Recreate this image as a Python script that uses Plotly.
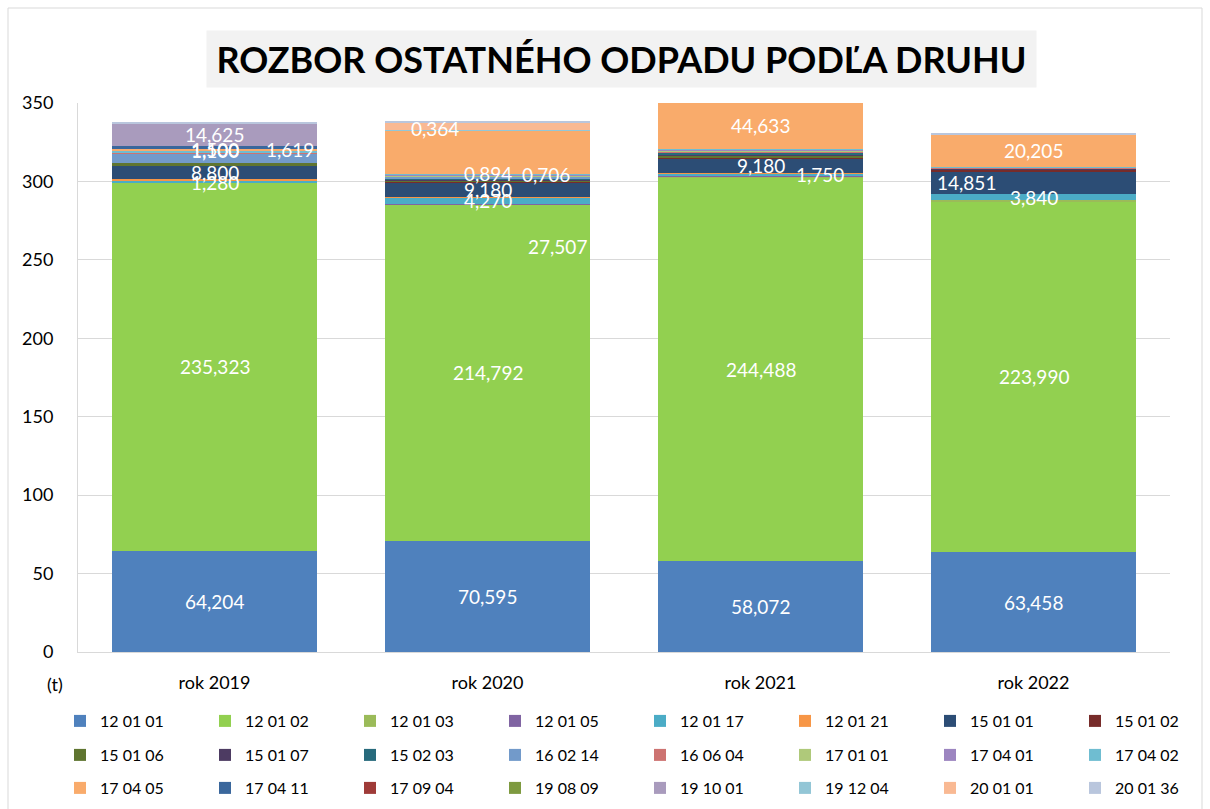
import plotly.graph_objects as go

years = ["rok 2019", "rok 2020", "rok 2021", "rok 2022"]

codes = ["12 01 01", "12 01 02", "12 01 03", "12 01 05", "12 01 17", "12 01 21",
         "15 01 01", "15 01 02", "15 01 06", "15 01 07", "15 02 03", "16 02 14",
         "16 06 04", "17 01 01", "17 04 01", "17 04 02", "17 04 05", "17 04 11",
         "17 09 04", "19 08 09", "19 10 01", "19 12 04", "20 01 01", "20 01 36"]

colors = ["#4F81BD", "#92D050", "#9BBB59", "#8064A2", "#4BACC6", "#F79646",
          "#2C4D75", "#772C2A", "#5F7530", "#4D3B62", "#276A7C", "#729ACA",
          "#CD7371", "#AFC97A", "#9C85C0", "#6FBDD1", "#F9AB6B", "#3A679C",
          "#9F3B38", "#7E9A40", "#A99BBD", "#93C6D6", "#F9B993", "#B9C6DD"]

# values in tonnes, one list per year, aligned with `codes`
v2019 = [64.204, 235.323, 0, 0, 0.5, 1.280, 8.800, 0, 1.9, 0, 0, 6.0,
         0.3, 0, 0, 1.100, 1.500, 1.619, 0, 0, 14.625, 0, 0, 0.8]
v2020 = [70.595, 214.792, 0, 0.3, 4.270, 0.3, 9.180, 0.5, 0.894, 0.3, 0.706, 1.0,
         0.3, 0.5, 0.5, 0.6, 27.507, 0, 0, 0, 0.4, 0.4, 4.5, 0.364]
v2021 = [58.072, 244.488, 0.4, 0.3, 1.750, 0.5, 9.180, 0.4, 1.2, 0.3, 1.8, 0.3,
         0.3, 0.6, 0.6, 0.5, 44.633, 0, 0, 0, 0, 0, 0, 0]
v2022 = [63.458, 223.990, 0.4, 0, 3.840, 0, 14.851, 0.8, 0.5, 0.3, 0.4, 0,
         0.5, 0, 0, 0.4, 20.205, 0, 0, 0, 0, 0, 0, 0.8]

values_by_year = [v2019, v2020, v2021, v2022]

# which segments carry a data label: (code, year index, x shift px, y shift px)
labels = [
    ("12 01 01", 0, 0, 0), ("12 01 02", 0, 0, 0), ("12 01 21", 0, 0, -2),
    ("15 01 01", 0, 0, 0), ("17 04 02", 0, 0, 1), ("17 04 05", 0, 0, 0),
    ("17 04 11", 0, 75, -2), ("19 10 01", 0, 0, 0),
    ("12 01 01", 1, 0, 0), ("12 01 02", 1, 0, 0), ("12 01 17", 1, 0, 0),
    ("15 01 01", 1, 0, 0), ("15 01 06", 1, 0, 7), ("15 02 03", 1, 58, 5),
    ("17 04 05", 1, 70, -94), ("20 01 36", 1, -53, -6),
    ("12 01 01", 2, 0, 0), ("12 01 02", 2, 0, 0), ("12 01 17", 2, 59, 0),
    ("15 01 01", 2, 0, 0), ("17 04 05", 2, 0, 0),
    ("12 01 01", 3, 0, 0), ("12 01 02", 3, 0, 0), ("12 01 17", 3, 0, 0),
    ("15 01 01", 3, -67, 0), ("17 04 05", 3, 0, 0),
]

Y_MAX = 350
FONT = "Lato"
PER_ROW = 8
legend_names = ["legend", "legend2", "legend3"]

fig = go.Figure()
for i, code in enumerate(codes):
    fig.add_trace(go.Bar(
        name=code, x=years, y=[values_by_year[j][i] for j in range(4)],
        marker=dict(color=colors[i], line=dict(width=0)),
        hoverinfo="x+y+name", legend=legend_names[i // PER_ROW],
    ))

# data label annotations, positioned at segment centres computed from the data
annotations = []
for code, j, dx, dy in labels:
    i = codes.index(code)
    base = sum(values_by_year[j][:i])
    top = base + values_by_year[j][i]
    centre = (base + min(top, Y_MAX)) / 2
    txt = f"{values_by_year[j][i]:.3f}".replace(".", ",")
    annotations.append(dict(
        x=years[j], y=centre, xref="x", yref="y", text=txt, showarrow=False,
        xshift=dx, yshift=dy, font=dict(family=FONT, size=19, color="white"),
    ))

# plot area in px: left 78, right 1170, top 103, bottom 652
PL, PR, PT, PB = 78, 1170, 103, 652
def px2paper(px, py):
    return (px - PL) / (PR - PL), (PB - py) / (PB - PT)

tx, ty = px2paper(621, 59)
annotations.append(dict(
    x=tx, y=ty, xref="paper", yref="paper", showarrow=False,
    text="<b>ROZBOR OSTATNÉHO ODPADU PODĽA DRUHU</b>",
    font=dict(family=FONT, size=36, color="black"),
    bgcolor="#F2F2F2", width=827, height=54, xanchor="center", yanchor="middle",
))
ux, uy = px2paper(55, 684)
annotations.append(dict(
    x=ux, y=uy, xref="paper", yref="paper", showarrow=False, text="(t)",
    font=dict(family=FONT, size=18, color="black"), xanchor="center", yanchor="middle",
))

fx0, fy0 = px2paper(8, 820)
fx1, fy1 = px2paper(1202, 8)

row_centres = [721, 755, 788]
legend_layouts = {}
for name, yc in zip(legend_names, row_centres):
    lx, ly = px2paper(60, yc)
    legend_layouts[name] = dict(
        orientation="h", x=lx, y=ly, xanchor="left", yanchor="middle",
        traceorder="normal", entrywidth=100, entrywidthmode="pixels",
        font=dict(family=FONT, size=16, color="black"),
        itemwidth=30, bgcolor="rgba(0,0,0,0)",
    )

fig.update_layout(
    width=1210, height=809,
    margin=dict(l=PL, r=1210 - PR, t=PT, b=809 - PB, autoexpand=False),
    paper_bgcolor="white", plot_bgcolor="white",
    barmode="stack", bargap=0.25,
    font=dict(family=FONT, size=18, color="black"),
    showlegend=True,
    xaxis=dict(
        showgrid=False, showline=True, linecolor="#D9D9D9", linewidth=1,
        ticks="", tickfont=dict(family=FONT, size=18), ticklabelstandoff=14,
    ),
    yaxis=dict(
        range=[0, Y_MAX], dtick=50, showgrid=True, gridcolor="#D9D9D9",
        gridwidth=1, showline=True, linecolor="#D9D9D9", ticks="",
        tickfont=dict(family=FONT, size=18), ticklabelstandoff=20,
        zeroline=False,
    ),
    annotations=annotations,
    shapes=[dict(type="rect", xref="paper", yref="paper", x0=fx0, y0=fy0,
                 x1=fx1, y1=fy1, line=dict(color="#D9D9D9", width=1),
                 fillcolor="rgba(0,0,0,0)", layer="below")],
    **legend_layouts,
)

fig.write_html("out.html")
